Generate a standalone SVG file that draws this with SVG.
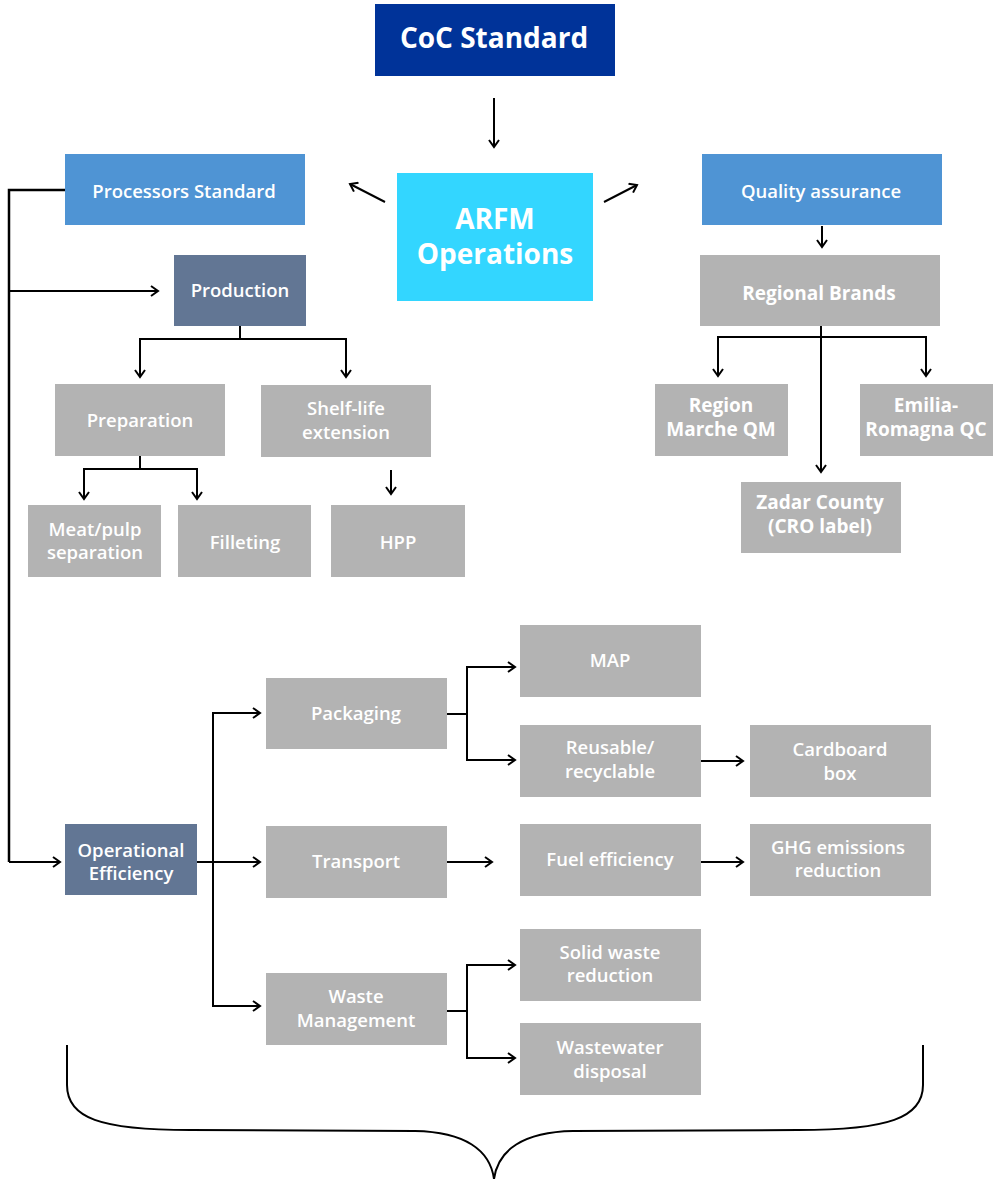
<svg xmlns="http://www.w3.org/2000/svg" width="1000" height="1179" viewBox="0 0 1000 1179">
<defs>
<marker id="ah" viewBox="0 0 12 12" refX="10" refY="6" markerWidth="12" markerHeight="12" markerUnits="userSpaceOnUse" orient="auto">
<path d="M3,1 L10,6 L3,11" fill="none" stroke="#000" stroke-width="2"/>
</marker>
<style>
text{font-family:"Open Sans","Noto Sans","Liberation Sans",sans-serif;fill:#fff;text-anchor:middle;font-size:18.5px;font-weight:600}
.b{font-weight:700;font-size:19px}
.big{font-size:28px;font-weight:700}
.gray{fill:#b3b3b3}
.mid{fill:#4f94d4}
.slate{fill:#627694}
.ln{fill:none;stroke:#000;stroke-width:2}
.ar{fill:none;stroke:#000;stroke-width:2;marker-end:url(#ah)}
</style>
</defs>
<rect width="1000" height="1179" fill="#fff"/>
<g id="connectors">
<path class="ar" d="M494,98 L494,147"/>
<path class="ar" d="M385,202 L350,184"/>
<path class="ar" d="M604,202 L637,185"/>
<path class="ar" d="M822,226 L822,247"/>
<path class="ln" d="M65,190 L9,190 L9,862" style="stroke-width:2.5"/>
<path class="ar" d="M9,291 L158,291"/>
<path class="ar" d="M9,862 L60,862"/>
<path class="ln" d="M240,326 L240,339"/>
<path class="ln" d="M140,339 L346,339"/>
<path class="ar" d="M140,338 L140,377"/>
<path class="ar" d="M346,338 L346,377"/>
<path class="ln" d="M140,456 L140,469 M84,469 L197,469"/>
<path class="ar" d="M84,468 L84,499"/>
<path class="ar" d="M197,468 L197,499"/>
<path class="ar" d="M391,470 L391,494"/>
<path class="ln" d="M718,337 L926,337"/>
<path class="ar" d="M718,336 L718,376"/>
<path class="ar" d="M926,336 L926,376"/>
<path class="ar" d="M821,326 L821,472"/>
<path class="ln" d="M197,862 L213,862"/>
<path class="ln" d="M213,713 L213,1006"/>
<path class="ar" d="M212,713 L260,713"/>
<path class="ar" d="M197,862 L260,862"/>
<path class="ar" d="M212,1006 L260,1006"/>
<path class="ln" d="M447,714 L467,714 M467,667 L467,760"/>
<path class="ar" d="M466,667 L515,667"/>
<path class="ar" d="M466,760 L515,760"/>
<path class="ar" d="M700,761 L743,761"/>
<path class="ar" d="M447,862 L492,862"/>
<path class="ar" d="M700,862 L743,862"/>
<path class="ln" d="M447,1011 L467,1011 M467,965 L467,1058"/>
<path class="ar" d="M466,965 L515,965"/>
<path class="ar" d="M466,1058 L515,1058"/>
<path class="ln" d="M67,1045 L67,1085 C67,1118 100,1130 190,1130 L415,1131 C465,1132 490,1150 494,1179 C498,1150 523,1132 573,1131 L798,1130 C888,1130 923,1118 923,1085 L923,1045"/>
</g>
<g id="coc"><rect x="375" y="4" width="240" height="72" fill="#003399"/><text class="big" x="494" y="48">CoC Standard</text></g>
<g id="arfm"><rect x="397" y="173" width="196" height="128" fill="#33d6ff"/><text class="big" x="495" y="229">ARFM</text><text class="big" x="495" y="264">Operations</text></g>
<g id="processors"><rect class="mid" x="65" y="154" width="240" height="71"/><text x="184" y="198">Processors Standard</text></g>
<g id="qa"><rect class="mid" x="702" y="154" width="240" height="71"/><text x="821" y="198">Quality assurance</text></g>
<g id="production"><rect class="slate" x="174" y="255" width="132" height="71"/><text x="240" y="297">Production</text></g>
<g id="regional"><rect class="gray" x="700" y="255" width="240" height="71"/><text class="b" x="819" y="300">Regional Brands</text></g>
<g id="preparation"><rect class="gray" x="55" y="384" width="170" height="72"/><text x="140" y="427">Preparation</text></g>
<g id="shelflife"><rect class="gray" x="261" y="385" width="170" height="72"/><text x="346" y="415">Shelf-life</text><text x="346" y="439">extension</text></g>
<g id="meat"><rect class="gray" x="28" y="505" width="133" height="72"/><text x="95" y="536">Meat/pulp</text><text x="95" y="559">separation</text></g>
<g id="filleting"><rect class="gray" x="178" y="505" width="133" height="72"/><text x="245" y="549">Filleting</text></g>
<g id="hpp"><rect class="gray" x="331" y="505" width="134" height="72"/><text x="398" y="549">HPP</text></g>
<g id="marche"><rect class="gray" x="655" y="384" width="133" height="72"/><text class="b" x="721" y="412">Region</text><text class="b" x="721" y="436">Marche QM</text></g>
<g id="emilia"><rect class="gray" x="860" y="384" width="133" height="72"/><text class="b" x="926" y="412">Emilia-</text><text class="b" x="926" y="436">Romagna QC</text></g>
<g id="zadar"><rect class="gray" x="741" y="482" width="160" height="71"/><text class="b" x="820" y="509">Zadar County</text><text class="b" x="820" y="533">(CRO label)</text></g>
<g id="opeff"><rect class="slate" x="65" y="824" width="132" height="71"/><text x="131" y="857">Operational</text><text x="131" y="880">Efficiency</text></g>
<g id="packaging"><rect class="gray" x="266" y="678" width="181" height="71"/><text x="356" y="720">Packaging</text></g>
<g id="transport"><rect class="gray" x="266" y="826" width="181" height="72"/><text x="356" y="868">Transport</text></g>
<g id="waste"><rect class="gray" x="266" y="973" width="181" height="72"/><text x="356" y="1003">Waste</text><text x="356" y="1027">Management</text></g>
<g id="map"><rect class="gray" x="520" y="625" width="181" height="72"/><text x="610" y="667">MAP</text></g>
<g id="reusable"><rect class="gray" x="520" y="725" width="181" height="72"/><text x="610" y="754">Reusable/</text><text x="610" y="778">recyclable</text></g>
<g id="cardboard"><rect class="gray" x="750" y="725" width="181" height="72"/><text x="840" y="756">Cardboard</text><text x="840" y="780">box</text></g>
<g id="fuel"><rect class="gray" x="520" y="824" width="181" height="72"/><text x="610" y="866">Fuel efficiency</text></g>
<g id="ghg"><rect class="gray" x="750" y="824" width="181" height="72"/><text x="838" y="854">GHG emissions</text><text x="838" y="877">reduction</text></g>
<g id="solid"><rect class="gray" x="520" y="929" width="181" height="72"/><text x="610" y="959">Solid waste</text><text x="610" y="982">reduction</text></g>
<g id="wastewater"><rect class="gray" x="520" y="1023" width="181" height="72"/><text x="610" y="1054">Wastewater</text><text x="610" y="1078">disposal</text></g>
</svg>
